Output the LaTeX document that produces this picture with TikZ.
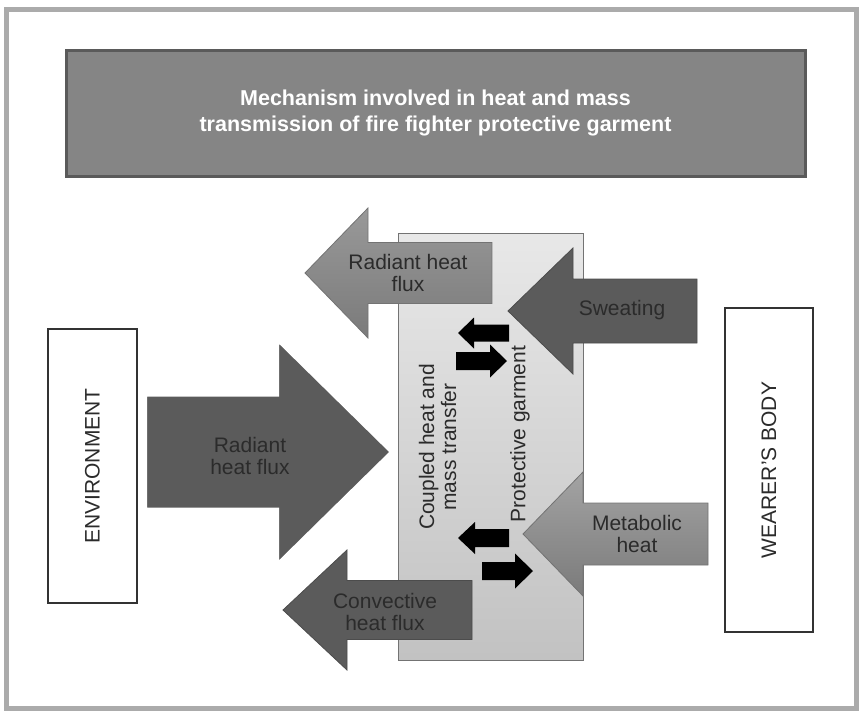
\documentclass[tikz,border=0pt]{standalone}
\usepackage{fontspec}
\setmainfont{Liberation Sans}
\usepackage{xcolor}
\usetikzlibrary{positioning}

\definecolor{frameGray}{HTML}{ABABAB}
\definecolor{titleFill}{HTML}{858585}
\definecolor{titleLine}{HTML}{5A5A5A}
\definecolor{arrowDark}{HTML}{5B5B5B}
\definecolor{labelGray}{HTML}{2B2B2B}

% block arrow: [style] tail x, head base x, tip x, centre y, half shaft, half head
\newcommand{\blockarrow}[7][]{%
  \draw[#1] (#2,#5-#6) -- (#3,#5-#6) -- (#3,#5-#7) -- (#4,#5)
    -- (#3,#5+#7) -- (#3,#5+#6) -- (#2,#5+#6) -- cycle;}

\begin{document}
\begin{tikzpicture}[x=1pt, y=-1pt,
    lbl/.style={text=labelGray, font=\fontsize{21}{22}\selectfont, align=center, inner sep=0pt},
    sidebox/.style={draw=black!80, line width=1.2pt, fill=white, rotate=90, text=labelGray,
        font=\fontsize{21}{22}\selectfont},
    darkarrow/.style={fill=arrowDark, draw=black!70, line width=0.8pt},
    midarrow/.style={top color=black!40, bottom color=black!52, draw=black!55, line width=0.8pt},
    blackarrow/.style={fill=black, draw=none}]

    \useasboundingbox (0,0) rectangle (863,713);

    % Frame and title
    \draw[frameGray, line width=5pt] (6.5,9) rectangle (856,708);
    \node[draw=titleLine, line width=3pt, fill=titleFill, minimum width=739pt, minimum height=126pt,
        text=white, font=\bfseries\fontsize{21.5}{26}\selectfont, align=center] (title) at (435.5,113)
        {Mechanism involved in heat and mass\\transmission of fire fighter protective garment};

    % Garment layer
    \node[draw=black!55, line width=0.8pt, top color=black!9, bottom color=black!24,
        minimum width=185pt, minimum height=427pt, inner sep=0pt] (garment) at (490.5,446.5) {};

    % Side boxes
    \node[sidebox, minimum width=274pt, minimum height=89pt] (env) at (92.5,466) {ENVIRONMENT};
    \node[sidebox, minimum width=324pt, minimum height=88pt] (body) at (769,470) {WEARER’S BODY};

    % Heat flux arrows
    \blockarrow[draw=white, line width=4pt, fill=arrowDark]{145}{277}{392}{452}{57.5}{113}
    \blockarrow[midarrow]{492}{368}{305}{273}{30.5}{65}
    \blockarrow[darkarrow]{697}{573}{508}{311}{32}{63}
    \blockarrow[midarrow, top color=black!36, bottom color=black!52]{708}{583}{523}{534}{31}{62}
    \blockarrow[darkarrow]{472}{347}{283}{610}{29.5}{60}

    % Exchange arrows inside the garment
    \blockarrow[blackarrow]{509}{474}{458}{333}{8.5}{15.5}
    \blockarrow[blackarrow]{456}{490}{507}{361}{9}{16.5}
    \blockarrow[blackarrow]{509}{475}{458}{538}{9}{16}
    \blockarrow[blackarrow]{482}{515}{533}{571}{9}{17.5}

    % Labels
    \node[lbl] (radiantout) at (408,273) {Radiant heat\\flux};
    \node[lbl] (radiantin) at (250,456) {Radiant\\heat flux};
    \node[lbl] (sweat) at (622,310) {Sweating};
    \node[lbl] (metab) at (637,534) {Metabolic\\heat};
    \node[lbl] (convect) at (385,612) {Convective\\heat flux};
    \node[lbl, rotate=90] (coupled) at (437.5,447) {Coupled heat and\\mass transfer};
    \node[lbl, rotate=90] (garmentlbl) at (520,434) {Protective garment};

\end{tikzpicture}
\end{document}
